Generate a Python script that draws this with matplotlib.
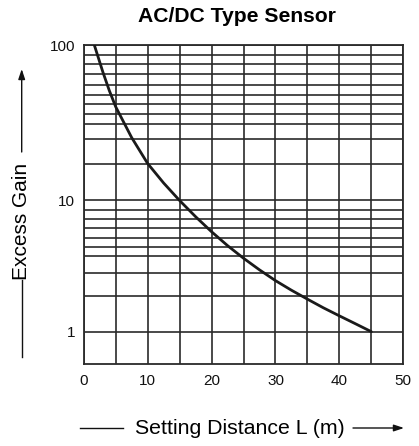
import numpy as np
import matplotlib
matplotlib.use("Agg")
import matplotlib.pyplot as plt
from matplotlib.ticker import FixedLocator, NullFormatter

plt.rcParams['font.family'] = ['Liberation Sans', 'DejaVu Sans']

# ---- data ----
distance = [1.66, 3.0, 4.0, 5.0, 7.5, 10.0, 12.5, 15.0, 17.5, 20.0, 22.5, 25.0,
            27.5, 30.0, 32.5, 35.0, 37.5, 40.0, 42.5, 45.0]
excess_gain = [100, 67.0, 51.0, 40.1, 25.4, 17.3, 12.96, 10.0, 7.53, 5.78, 4.53, 3.63,
               2.96, 2.45, 2.07, 1.77, 1.52, 1.32, 1.15, 1.0]

x_ticks = [0, 10, 20, 30, 40, 50]
x_grid = [5, 10, 15, 20, 25, 30, 35, 40, 45]
y_major = [1, 10, 100]
y_major_labels = ['1', '10', '100']
# chart's own (non-uniform) gridlines
y_minor = [1.88, 2.82, 3.78, 4.44, 5.21, 6.14, 7.23, 8.51,
           17.1, 24.8, 31.0, 36.0, 41.8, 47.9, 55.5, 65.1, 75.5, 86.7]

title = "AC/DC Type Sensor"
xlabel = "Setting Distance L (m)"
ylabel = "Excess Gain"

# piecewise log scale (lower decade is drawn shorter than the upper one)
LOW, HIGH = 131.2, 155.5

def fwd(v):
    l = np.log10(np.clip(np.asarray(v, dtype=float), 1e-9, None))
    return np.where(l < 1, l * LOW, LOW + (l - 1) * HIGH)

def inv(p):
    p = np.asarray(p, dtype=float)
    l = np.where(p < LOW, p / LOW, 1 + (p - LOW) / HIGH)
    return 10 ** l

W, H = 419, 446
fig = plt.figure(figsize=(W / 100, H / 100), dpi=100)
ax = fig.add_axes([83.7 / W, (H - 364) / H, 319.6 / W, 319 / H])
ax.set_yscale('function', functions=(fwd, inv))
ax.set_xlim(0, 50)
ax.set_ylim(0.567, 100)

gc = '#2a2a2a'
ax.yaxis.set_major_locator(FixedLocator(y_major))
ax.set_yticklabels(y_major_labels)
ax.yaxis.set_minor_locator(FixedLocator(y_minor))
ax.yaxis.set_minor_formatter(NullFormatter())
ax.set_xticks(x_ticks)
ax.xaxis.set_minor_locator(FixedLocator(x_grid))
ax.grid(True, which='both', color=gc, lw=1.2)
ax.set_axisbelow(True)
ax.tick_params(which='both', length=0, labelsize=11, colors='#111111')
ax.tick_params(axis='y', pad=6.0)
ax.tick_params(axis='x', pad=7.5)
for s in ax.spines.values():
    s.set_color(gc)
    s.set_linewidth(1.3)

ax.plot(distance, excess_gain, color='#1a1a1a', lw=2.0, solid_capstyle='round',
        solid_joinstyle='round', zorder=3)

fig.text(237 / W, 1 - 17 / H, title, ha='center', va='center', fontsize=15.2, fontweight='bold')
fig.text(240 / W, 1 - 428 / H, xlabel, ha='center', va='center', fontsize=15.3)
fig.text(21.7 / W, 1 - 221 / H, ylabel, ha='center', va='center', fontsize=15, rotation=90)

# decorative arrows
lc = '#111111'
fig.add_artist(plt.Line2D([80 / W, 123 / W], [1 - 428 / H] * 2, color=lc, lw=1.0))
ax.annotate('', xy=(404, H - 428), xytext=(353, H - 428), xycoords='figure pixels',
            textcoords='figure pixels',
            arrowprops=dict(arrowstyle='-|>,head_length=0.6,head_width=0.2', color=lc, lw=1.0,
                            mutation_scale=10, shrinkA=0, shrinkB=0))
fig.add_artist(plt.Line2D([21.7 / W] * 2, [1 - 357 / H, 1 - 280 / H], color=lc, lw=1.0))
ax.annotate('', xy=(21.7, H - 69), xytext=(21.7, H - 152), xycoords='figure pixels',
            textcoords='figure pixels',
            arrowprops=dict(arrowstyle='-|>,head_length=0.6,head_width=0.2', color=lc, lw=1.0,
                            mutation_scale=10, shrinkA=0, shrinkB=0))

fig.savefig('out.png', dpi=100)
